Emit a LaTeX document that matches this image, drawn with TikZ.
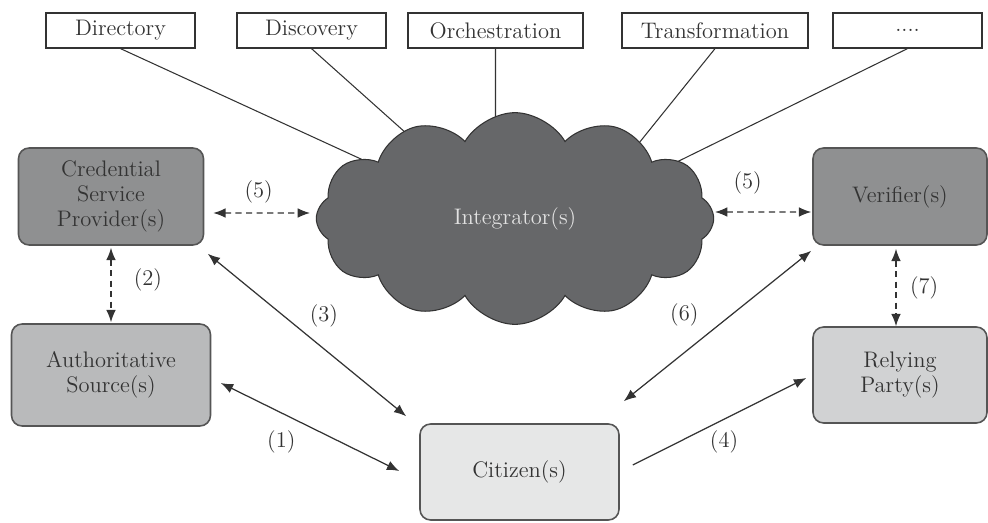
\documentclass[tikz,border=0pt]{standalone}
\usepackage{tikz}
\usetikzlibrary{arrows.meta,shapes.symbols,backgrounds}
\definecolor{Ink}{HTML}{333333}
\definecolor{Rim}{HTML}{555555}
\definecolor{CloudGray}{HTML}{666769}
\definecolor{CloudText}{HTML}{E2E2E2}
\definecolor{MidGray}{HTML}{8F9091}
\definecolor{AuthGray}{HTML}{B9BABB}
\definecolor{RelyGray}{HTML}{D1D2D3}
\definecolor{CitGray}{HTML}{E6E7E7}

\begin{document}
\begin{tikzpicture}[
  x=0.02cm,
  y=0.02cm,
  >={Latex[length=7pt,width=5.5pt]},
  every node/.style={font=\fontsize{12.8}{14}\selectfont,text=Ink},
  topbox/.style={rectangle,draw=Ink,line width=0.7pt,fill=white,minimum height=0.7cm,inner sep=2pt},
  box/.style={rectangle,rounded corners=6pt,draw=Rim,line width=0.9pt,align=center,inner sep=2pt},
  hub/.style={cloud,cloud puffs=12,cloud puff arc=120,draw=Ink,line width=0.6pt,fill=CloudGray,text=CloudText,minimum width=7.95cm,minimum height=4.15cm},
  link/.style={<->,draw=Ink,line width=0.7pt},
  oneway/.style={->,draw=Ink,line width=0.7pt},
  dlink/.style={<->,draw=Ink,line width=0.7pt,dash pattern=on 3.5pt off 2.5pt},
  spoke/.style={draw=Ink,line width=0.6pt},
  lbl/.style={inner sep=1pt}
]
  \useasboundingbox (0,0) rectangle (988,522);

  \node[topbox,minimum width=2.98cm] (dir) at (120.5,491.5) {Directory};
  \node[topbox,minimum width=2.98cm] (disc) at (311.5,491.5) {Discovery};
  \node[topbox,minimum width=3.5cm] (orch) at (495.5,491.5) {Orchestration};
  \node[topbox,minimum width=3.72cm] (trans) at (715,491.5) {Transformation};
  \node[topbox,minimum width=2.98cm] (more) at (907.5,491.5) {....};

  \node[hub] (intg) at (515,303.5) {Integrator(s)};

  \node[box,fill=MidGray,minimum width=3.7cm,minimum height=1.94cm] (csp) at (111,325.5) {Credential\\Service\\Provider(s)};
  \node[box,fill=AuthGray,minimum width=3.98cm,minimum height=2.04cm] (auth) at (111,147) {Authoritative\\Source(s)};
  \node[box,fill=MidGray,minimum width=3.48cm,minimum height=1.94cm] (ver) at (900,325.5) {Verifier(s)};
  \node[box,fill=RelyGray,minimum width=3.48cm,minimum height=1.92cm] (rp) at (900,147) {Relying\\Party(s)};
  \node[box,fill=CitGray,minimum width=3.98cm,minimum height=1.92cm] (cit) at (519.5,50) {Citizen(s)};

  % services hang off the cloud (ends tucked under it)
  \begin{scope}[on background layer]
    \draw[spoke] (dir.south) -- ([shift={(-122.5,45)}]intg.center);
    \draw[spoke] (disc.south) -- ([shift={(-85,64)}]intg.center);
    \draw[spoke] (orch.south) -- ([shift={(-19.5,66)}]intg.center);
    \draw[spoke] (trans.south) -- ([shift={(122,73)}]intg.center);
    \draw[spoke] (more.south) -- ([shift={(143.5,47.5)}]intg.center);
  \end{scope}

  \draw[dlink] ([shift={(9,-16.5)}]csp.east) -- node[lbl,pos=.47,yshift=12pt] {(5)} ([shift={(-205,5.5)}]intg.center);
  \draw[dlink] ([shift={(200,6.5)}]intg.center) -- node[lbl,pos=.34,yshift=16.4pt] {(5)} ([shift={(-1,-15.5)}]ver.west);
  \draw[dlink] ([shift={(0,-2)}]csp.south) -- node[lbl,pos=.43,xshift=21pt] {(2)} ([shift={(0,1)}]auth.north);
  \draw[dlink] ([shift={(-4,-3)}]ver.south) -- node[lbl,pos=.5,xshift=16pt] {(7)} ([shift={(-4,0)}]rp.north);

  \draw[link] ([shift={(9.5,-8)}]auth.east) -- node[lbl,pos=.339,yshift=-16.4pt] {(1)} ([shift={(-20,1)}]cit.west);
  \draw[link] ([shift={(3.5,-8)}]csp.south east) -- node[lbl,pos=.585,yshift=19pt] {(3)} ([shift={(-13,7)}]cit.north west);
  \draw[oneway] ([shift={(13,7)}]cit.east) -- node[lbl,pos=.526,yshift=-13pt] {(4)} ([shift={(-6,-3)}]rp.west);
  \draw[link] ([shift={(-1,-5)}]ver.south west) -- node[lbl,pos=.677,yshift=21.5pt] {(6)} ([shift={(4,22)}]cit.north east);
\end{tikzpicture}
\end{document}
